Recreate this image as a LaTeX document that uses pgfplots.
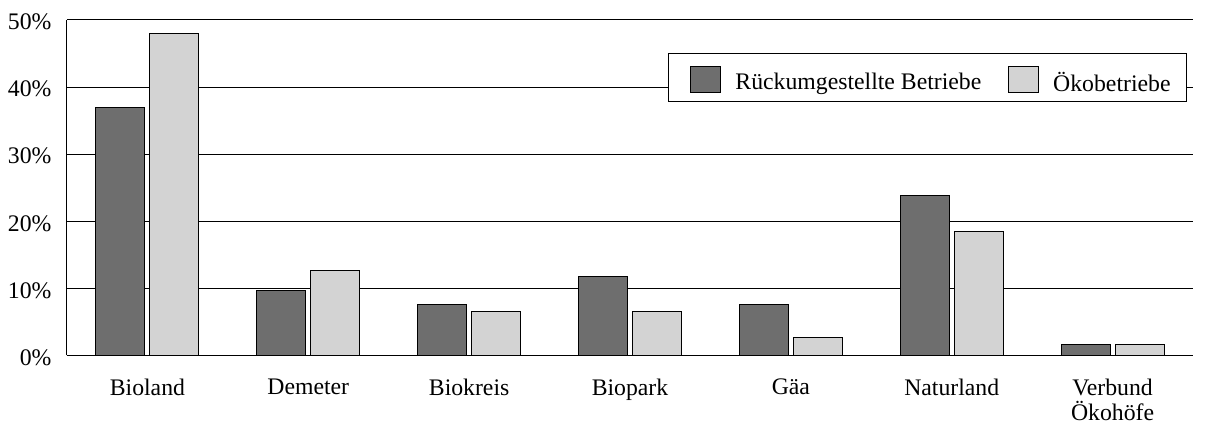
\documentclass[border=0pt]{standalone}
\usepackage{pgfplots}
\pgfplotsset{compat=1.18}
\usepackage{fontspec}
\setmainfont{Liberation Serif}
\definecolor{darkbar}{RGB}{110,110,110}
\definecolor{lightbar}{RGB}{211,211,211}
\begin{document}
\fontsize{17.8pt}{19pt}\selectfont
\begin{tikzpicture}
\begin{axis}[
  name=main,
  at={(0pt,0pt)}, anchor=south west,
  scale only axis, width=844.5pt, height=251.6pt,
  xmin=-0.5, xmax=6.5, ymin=0, ymax=50,
  axis x line*=bottom, axis y line*=left,
  axis line style={black, line width=0.75pt, -},
  xtick={0,1,2,3,4,5,6},
  xticklabels={Bioland,Demeter,Biokreis,Biopark,Gäa,Naturland,{Verbund\\Ökohöfe}},
  xticklabel style={inner sep=0pt, yshift=-17.2pt, align=center, font=\fontsize{17.8pt}{19pt}\selectfont},
  ytick={0,10,20,30,40,50},
  yticklabels={0\%,10\%,20\%,30\%,40\%,50\%},
  yticklabel style={inner sep=0pt, xshift=-11.5pt, yshift=-1.5pt, font=\fontsize{17.8pt}{19pt}\selectfont},
  major tick length=0pt,
  ymajorgrids, grid style={black, line width=0.75pt},
  ybar=3.75pt, bar width=36.75pt,
  legend columns=2,
  legend style={at={(0.9947,0.9016)}, anchor=north east, draw=black, line width=0.75pt, fill=white,
    inner xsep=12pt, inner ysep=5.4pt,
    nodes={inner sep=0pt, font=\fontsize{17.8pt}{19pt}\selectfont},
    /tikz/every odd column/.style={column sep=10.7pt},
    /tikz/every even column/.style={column sep=15.7pt}},
  legend image code/.code={\path (0pt,-6.9pt) (0pt,16.5pt); \draw[#1, line width=0.75pt] (4.3pt,-6.9pt) rectangle (26.8pt,12.6pt);},
]
\addplot[fill=darkbar, draw=black, line width=0.75pt] coordinates {(0,37) (1,9.7) (2,7.6) (3,11.7) (4,7.6) (5,23.8) (6,1.6)};
\addplot[fill=lightbar, draw=black, line width=0.75pt] coordinates {(0,48) (1,12.7) (2,6.5) (3,6.5) (4,2.7) (5,18.5) (6,1.6)};
\legend{Rückumgestellte Betriebe,Ökobetriebe}
\end{axis}
\pgfresetboundingbox
\useasboundingbox (-50.25pt,-50.6pt) rectangle (853.5pt,266.6pt);
\end{tikzpicture}
\end{document}
